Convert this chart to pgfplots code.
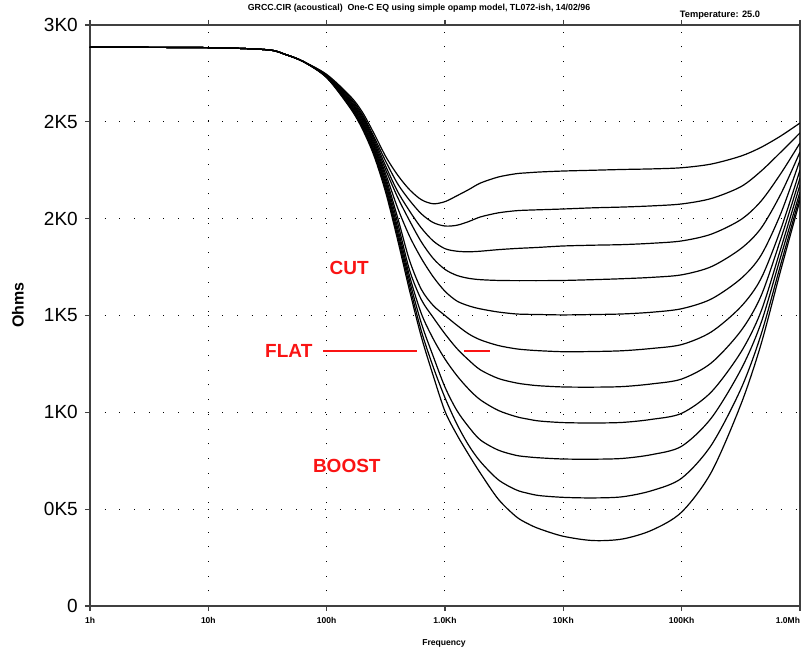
\documentclass[border=0pt]{standalone}
\usepackage{fontspec}
\setmainfont{Liberation Sans}
\usepackage{pgfplots}
\usepackage{pgfplotstable}
\pgfplotsset{compat=1.18}
\definecolor{lab}{RGB}{250,20,20}
\pgfplotstableread{
lf   c1   c2   c3   c4   c5   c6   c7   c8   c9   c10  c11
0    2885 2885 2885 2885 2885 2885 2885 2885 2885 2885 2885
1.0  2883 2883 2883 2883 2883 2883 2883 2883 2883 2883 2883
1.5  2872 2872 2872 2872 2872 2872 2872 2872 2872 2872 2872
1.65 2848 2848 2848 2848 2848 2848 2848 2848 2848 2848 2848
1.8  2812 2812 2812 2812 2812 2812 2812 2812 2812 2812 2812
2.0  2745 2741 2739 2737 2735 2734 2732 2731 2730 2729 2728
2.2  2632 2624 2617 2610 2604 2598 2592 2586 2580 2575 2570
2.3  2552 2540 2531 2522 2514 2506 2497 2489 2481 2473 2465
2.4  2440 2422 2410 2398 2387 2376 2365 2354 2344 2334 2325
2.5  2320 2295 2270 2250 2228 2210 2193 2178 2163 2148 2133
2.6  2225 2180 2140 2110 2055 2005 1978 1952 1930 1910 1890
2.7  2150 2095 2040 1990 1910 1785 1735 1705 1680 1655 1630
2.8  2098 2025 1952 1880 1795 1635 1582 1510 1460 1420 1390
2.9  2077 1980 1885 1795 1700 1552 1490 1380 1290 1235 1190
3.0  2088 1962 1845 1738 1625 1500 1405 1275 1130 1075 1005
3.1  2118 1966 1832 1707 1575 1450 1330 1190 1010 940  885
3.2  2150 1985 1829 1692 1550 1405 1270 1120 925  830  782
3.3  2184 2009 1832 1685 1534 1374 1219 1064 857  745  685
3.45 2215 2030 1840 1681 1518 1345 1175 1010 805  652  552
3.6  2232 2041 1846 1680 1508 1328 1152 978  778  600  462
3.7  2237 2044 1849 1680 1506 1322 1143 965  770  582  425
3.8  2241 2046 1852 1680 1505 1318 1137 955  765  570  398
4.0  2246 2050 1859 1681 1503 1313 1131 947  759  561  360
4.25 2250 2056 1863 1685 1505 1314 1130 945  758  558  338
4.5  2254 2060 1866 1690 1508 1318 1133 948  762  564  346
4.75 2257 2066 1873 1697 1517 1330 1147 964  782  596  392
5.0  2263 2076 1885 1710 1535 1350 1172 995  825  660  485
5.25 2282 2104 1920 1752 1585 1415 1255 1105 970  830  690
5.5  2323 2165 1995 1845 1690 1545 1420 1310 1220 1120 1040
5.67 2368 2245 2090 1950 1810 1690 1600 1520 1460 1400 1350
5.84 2428 2345 2235 2130 2030 1950 1900 1850 1810 1770 1740
6.0  2494 2443 2391 2344 2303 2251 2210 2174 2138 2115 2095
}\data
\begin{document}
\begin{tikzpicture}
\useasboundingbox (-90pt,-48pt) rectangle (711pt,606pt);
\begin{axis}[
  at={(0pt,0pt)}, anchor=south west,
  scale only axis, width=710pt, height=581pt,
  xmin=0, xmax=6, ymin=0, ymax=3000,
  xtick={0,...,6},
  xticklabels={1h,10h,100h,1.0Kh,10Kh,100Kh,{\makebox[0pt][r]{1.0Mh}}},
  ytick={0,500,...,3000},
  yticklabels={0,0K5,1K0,1K5,2K0,2K5,3K0},
  grid=major,
  major grid style={black, line width=1pt, dash pattern=on 1pt off 13.7pt},
  axis line style={black!75, line width=1.4pt},
  tick style={black!75, line width=1.2pt},
  tick align=outside, major tick length=5pt,
  yticklabel style={font=\fontsize{19}{20}\selectfont, inner sep=0pt, xshift=-7pt},
  xticklabel style={font=\fontsize{8.5}{9}\selectfont\bfseries, inner sep=0pt, yshift=-6pt},
]
\pgfplotsinvokeforeach{1,...,11}{
  \addplot[black, line width=1.2pt, smooth, tension=0.5, mark=none] table[x=lf, y=c#1] {\data};
}
\addplot[lab, line width=1.6pt, mark=none] coordinates {(1.97,1317) (2.76,1317)};
\addplot[lab, line width=1.6pt, mark=none] coordinates {(3.16,1317) (3.38,1317)};
\node[lab, font=\fontsize{19}{20}\selectfont\bfseries] at (axis cs:2.19,1745) {CUT};
\node[lab, font=\fontsize{19}{20}\selectfont\bfseries] at (axis cs:1.68,1317) {FLAT};
\node[lab, font=\fontsize{19}{20}\selectfont\bfseries] at (axis cs:2.17,723) {BOOST};
\end{axis}
\node[rotate=90, font=\fontsize{16}{17}\selectfont\bfseries] at (-72pt,301pt) {Ohms};
\node[font=\fontsize{8.8}{9}\selectfont\bfseries] at (329pt,598pt) {GRCC.CIR (acoustical)\ \ One-C EQ using simple opamp model, TL072-ish, 14/02/96};
\node[font=\fontsize{9.3}{10}\selectfont\bfseries] at (630pt,591pt) {Temperature: 25.0};
\node[font=\fontsize{8.6}{9}\selectfont\bfseries] at (354pt,-37pt) {Frequency};
\end{tikzpicture}
\end{document}
